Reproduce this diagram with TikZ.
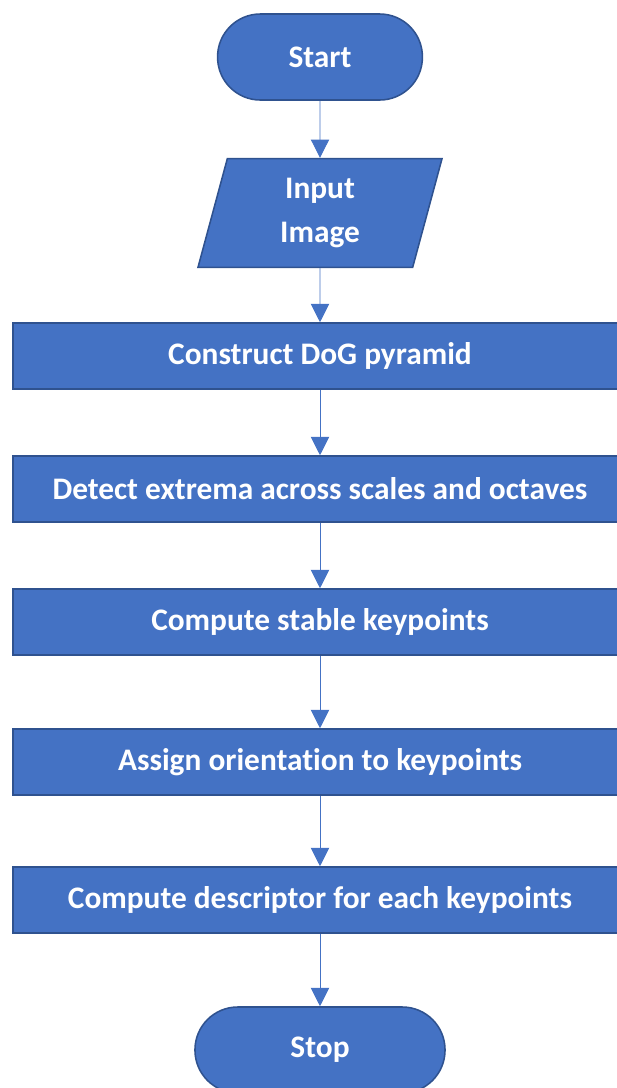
\documentclass[tikz,border=0pt]{standalone}
\usepackage{fontspec}
\setmainfont{Carlito}[Ligatures=NoCommon]
\usepackage{tikz}
\usetikzlibrary{arrows.meta,positioning,shapes.geometric}
\definecolor{boxblue}{HTML}{4472C4}
\definecolor{edgeblue}{HTML}{2F528F}
\tikzstyle{base}=[draw=edgeblue,fill=boxblue,line width=1.1pt,text=white,
  font=\fontsize{22.3}{31}\selectfont\bfseries,align=center,inner sep=0pt]
\tikzstyle{terminal}=[base,rectangle,rounded corners=1.07cm,minimum height=2.15cm]
\tikzstyle{io}=[base,trapezium,trapezium left angle=67,trapezium right angle=113,
  trapezium stretches body=true,minimum width=6.1cm,minimum height=2.72cm]
\tikzstyle{process}=[base,rectangle,minimum width=15.35cm,minimum height=1.65cm]
\tikzstyle{flow}=[draw=boxblue,line width=0.7pt,-{Triangle[width=13pt,length=13pt]}]

\begin{document}
\begin{tikzpicture}[x=0.025cm,y=-0.025cm]
\useasboundingbox (0,0) rectangle (617,1088);
\node [terminal,minimum width=5.12cm] (start) at (320,57) {Start};
\node [io] (input) at (320,213) {Input\\Image};
\node [process] (dog) at (320,356) {Construct DoG pyramid};
\node [process] (extrema) at (320,489) {Detect extrema across scales and octaves};
\node [process] (stable) at (320,622) {Compute stable keypoints};
\node [process] (orient) at (320,762) {Assign orientation to keypoints};
\node [process] (descr) at (320,900) {Compute descriptor for each keypoints};
\node [terminal,minimum width=6.25cm] (stop) at (320,1050) {Stop};

\draw [flow] (start) -- (input);
\draw [flow] (input) -- (dog);
\draw [flow] (dog) -- (extrema);
\draw [flow] (extrema) -- (stable);
\draw [flow] (stable) -- (orient);
\draw [flow] (orient) -- (descr);
\draw [flow] (descr) -- (stop);
\end{tikzpicture}
\end{document}
